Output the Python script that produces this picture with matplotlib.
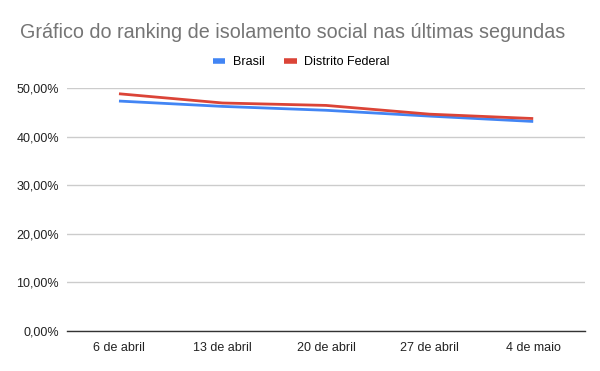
import matplotlib
matplotlib.use("Agg")
import matplotlib.pyplot as plt
from matplotlib.ticker import FuncFormatter

categories = ["6 de abril", "13 de abril", "20 de abril", "27 de abril", "4 de maio"]
brasil = [0.473, 0.462, 0.454, 0.442, 0.431]
distrito_federal = [0.488, 0.469, 0.464, 0.446, 0.437]
yticks = [0.0, 0.1, 0.2, 0.3, 0.4, 0.5]

plt.rcParams['font.family'] = ['Liberation Sans', 'DejaVu Sans']

fig = plt.figure(figsize=(6, 3.71), dpi=100)
ax = fig.add_axes([0.112, 0.108, 0.863, 0.655])

x = list(range(len(categories)))
ax.plot(x, brasil, color="#4285F4", lw=2, label="Brasil", solid_capstyle="butt")
ax.plot(x, distrito_federal, color="#DB4437", lw=2, label="Distrito Federal", solid_capstyle="butt")

ax.set_xlim(-0.5, len(categories) - 0.5)
ax.set_ylim(0, 0.5)
ax.set_yticks(yticks)
ax.yaxis.set_major_formatter(FuncFormatter(lambda v, p: f"{v*100:.2f}%".replace(".", ",")))
ax.set_xticks(x)
ax.set_xticklabels(categories)
ax.tick_params(axis="both", length=0, labelsize=9, colors="#222222", pad=6)
ax.tick_params(axis="x", pad=8)
ax.grid(axis="y", color="#cccccc", lw=1)
ax.set_axisbelow(True)
for s in ["top", "right", "left"]:
    ax.spines[s].set_visible(False)
ax.spines["bottom"].set_color("#333333")
ax.spines["bottom"].set_linewidth(1)
ax.spines["bottom"].set_zorder(3)

fig.text(0.4883, 0.912, "Gráfico do ranking de isolamento social nas últimas segundas",
         ha="center", va="center", fontsize=14.2, color="#757575")
fig.legend(loc="center", bbox_to_anchor=(0.502, 0.832), ncol=2, frameon=False,
           fontsize=9, handlelength=1.0, handleheight=0.5, columnspacing=1.6,
           handletextpad=0.6)
for line in fig.legends[0].get_lines():
    line.set_linewidth(4)

fig.savefig("out.png", dpi=100)
